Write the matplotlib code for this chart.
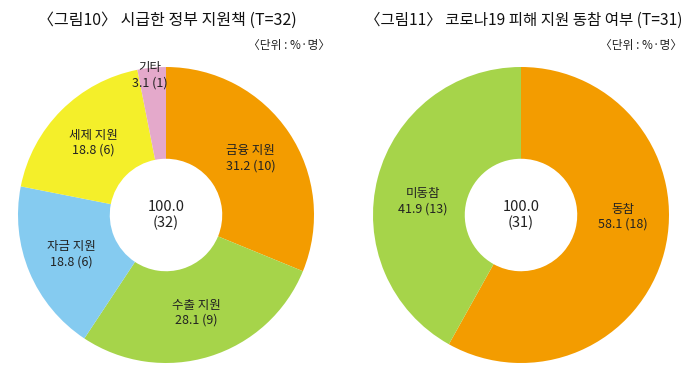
import matplotlib
matplotlib.use("Agg")
import matplotlib.pyplot as plt
import numpy as np

plt.rcParams['font.family'] = ['Noto Sans CJK KR', 'DejaVu Sans']

# Data
left_title = "〈그림10〉 시급한 정부 지원책 (T=32)"
left_labels = ["금융 지원", "수출 지원", "자금 지원", "세제 지원", "기타"]
left_pct = [31.2, 28.1, 18.8, 18.8, 3.1]
left_n = [10, 9, 6, 6, 1]
left_total = 32

right_title = "〈그림11〉 코로나19 피해 지원 동참 여부 (T=31)"
right_labels = ["동참", "미동참"]
right_pct = [58.1, 41.9]
right_n = [18, 13]
right_total = 31

unit_text = "〈단위 : %·명〉"

left_colors = ["#F39C00", "#A6D44A", "#85CBF0", "#F4EF2A", "#E4A9CB"]
right_colors = ["#F39C00", "#A6D44A"]

W, H = 700, 384
fig = plt.figure(figsize=(W / 100, H / 100), dpi=100)

R = 148
hole = 0.38


def draw(cx, cy, pct, labels, ns, total, colors, title, title_x, unit_x,
         label_pos=None, title_size=11.5):
    ax = fig.add_axes([(cx - R) / W, 1 - (cy + R) / H, 2 * R / W, 2 * R / H])
    wedges, _ = ax.pie(pct, colors=colors, startangle=90, counterclock=False,
                       radius=1.0, wedgeprops=dict(width=1 - hole, linewidth=0))
    for i, w in enumerate(wedges):
        ang = np.deg2rad((w.theta1 + w.theta2) / 2)
        r = (1 + hole) / 2
        if label_pos and i in label_pos:
            a, r = label_pos[i]
            ang = np.deg2rad(a)
        x, y = r * np.cos(ang), r * np.sin(ang)
        ax.text(x, y, f"{labels[i]}\n{pct[i]:.1f} ({ns[i]})", ha='center', va='center',
                fontsize=9, color='#222222', linespacing=1.2)
    ax.text(0, 0, f"100.0\n({total})", ha='center', va='center', fontsize=10.5,
            color='#222222', linespacing=1.15)
    ax.set_xlim(-1, 1)
    ax.set_ylim(-1, 1)
    ax.set_aspect('equal')
    ax.axis('off')
    fig.text(title_x / W, 1 - 20 / H, title, ha='center', va='center',
             fontsize=title_size, color='#111111', fontweight='medium')
    fig.text(unit_x / W, 1 - 45 / H, unit_text, ha='right', va='center', fontsize=8.5,
             color='#222222')


draw(166, 215, left_pct, left_labels, left_n, left_total, left_colors,
     left_title, 167, 330, label_pos={4: (96.5, 0.95)})
draw(521, 215, right_pct, right_labels, right_n, right_total, right_colors,
     right_title, 524, 682, label_pos={0: (-1.0, 0.69), 1: (172.0, 0.67)},
     title_size=11.2)

fig.savefig("out.png", dpi=100, facecolor='white')
